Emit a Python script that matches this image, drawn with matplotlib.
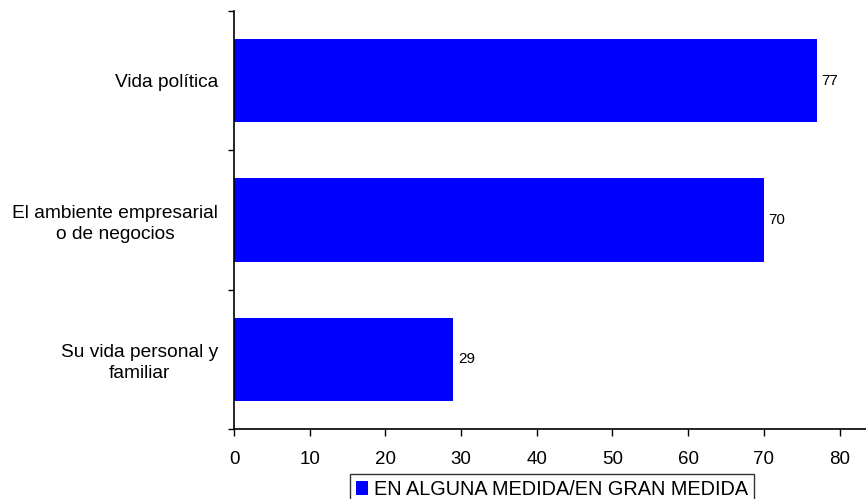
import numpy as np
import matplotlib
matplotlib.use("Agg")
import matplotlib.pyplot as plt
from matplotlib.patches import Patch

# Data (top to bottom)
categories = ["Vida política", "El ambiente empresarial\no de negocios", "Su vida personal y\nfamiliar"]
values = [77, 70, 29]
series_name = "EN ALGUNA MEDIDA/EN GRAN MEDIDA"
x_ticks = [0, 10, 20, 30, 40, 50, 60, 70, 80]

plt.rcParams["font.family"] = ["Liberation Sans", "DejaVu Sans"]

fig = plt.figure(figsize=(8.66, 4.99), dpi=100)
ax = fig.add_axes([234 / 866, 1 - 429 / 499, 1 - 234 / 866, (429 - 11) / 499])

y = np.arange(len(categories))
bars = ax.barh(y, values, height=0.6, color="#0000FF")

for rect, v in zip(bars, values):
    ax.text(rect.get_width() + 0.6, rect.get_y() + rect.get_height() / 2, str(v),
            va="center", ha="left", fontsize=11)

ax.set_ylim(len(categories) - 0.5, -0.5)
ax.set_xlim(0, 83.5)

ax.set_yticks(y)
ax.set_yticklabels(categories, fontsize=13.8, multialignment="center", linespacing=1.3)
ax.tick_params(axis="y", which="major", length=0, pad=11.5)
ax.set_yticks(np.arange(-0.5, len(categories)), minor=True)
ax.tick_params(axis="y", which="minor", length=4.5, direction="out", width=1)

ax.set_xticks(x_ticks)
ax.tick_params(axis="x", labelsize=13.5, length=4.8, direction="out", width=1, pad=11)

for side in ["top", "right"]:
    ax.spines[side].set_visible(False)
for side in ["left", "bottom"]:
    ax.spines[side].set_linewidth(1.2)

handle = Patch(facecolor="#0000FF", edgecolor="none")
leg = fig.legend([handle], [series_name], loc="upper center",
                 bbox_to_anchor=(552 / 866, 1 - 474 / 499), fontsize=14.3,
                 frameon=True, fancybox=False, handlelength=0.65, handleheight=0.65,
                 handletextpad=0.3, borderpad=0.3, borderaxespad=0)
leg.get_frame().set_edgecolor("black")
leg.get_frame().set_linewidth(1.0)

fig.savefig("out.png", dpi=100)
